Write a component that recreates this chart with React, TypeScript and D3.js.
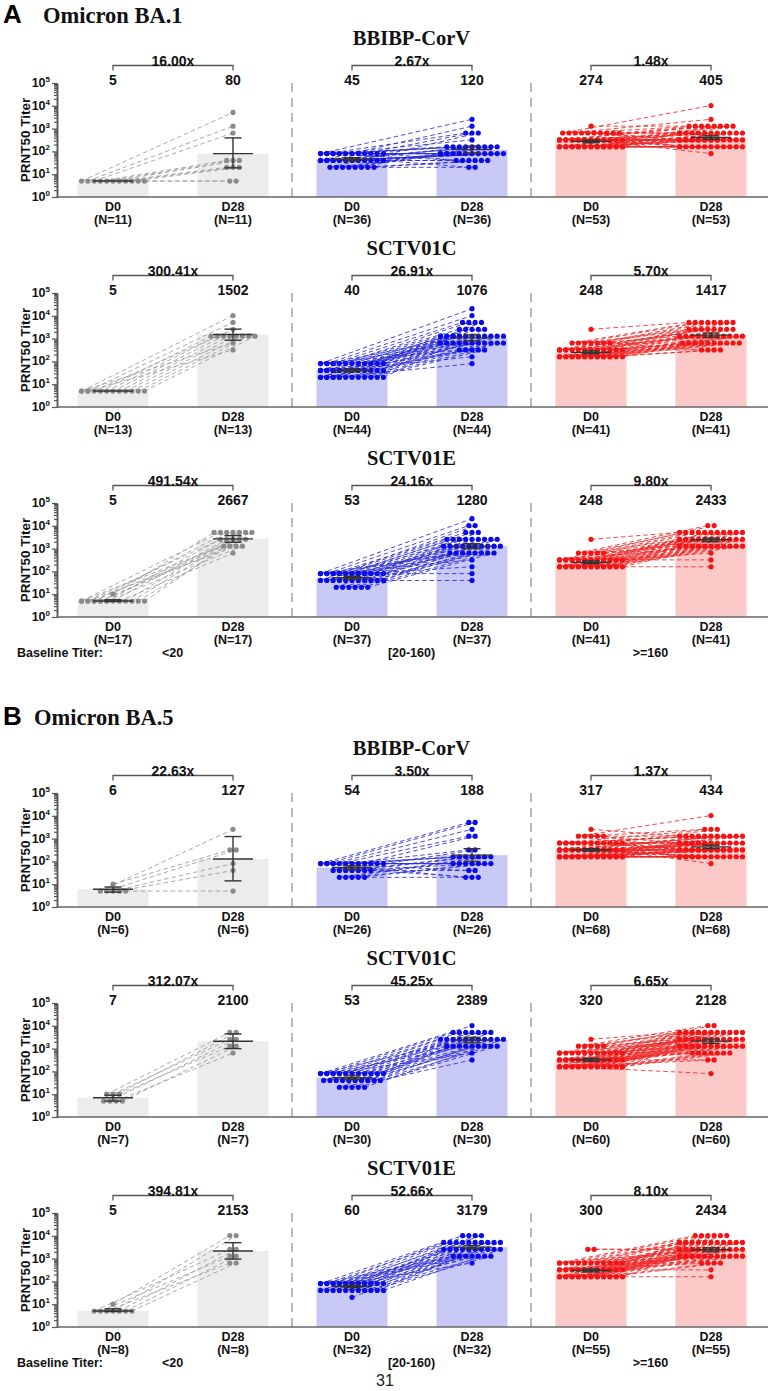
import React, { useEffect, useRef } from 'react';
import * as d3 from 'd3';

// ---------- labels ----------
const variants = ['Omicron BA.1', 'Omicron BA.5'];
const sectionLetters = ['A', 'B'];
const vaccines = ['BBIBP-CorV', 'SCTV01C', 'SCTV01E'];
const baselineGroups = ['<20', '[20-160)', '>=160'];
const days = ['D0', 'D28'];
const yTickValues = [1, 10, 100, 1000, 10000, 100000];
const yTickExps = ['0', '1', '2', '3', '4', '5'];

// ---------- summary values (GMT, fold, N, 95% CI) ----------
const ba1Gmt = [[[5, 80], [45, 120], [274, 405]], [[5, 1502], [40, 1076], [248, 1417]], [[5, 2667], [53, 1280], [248, 2433]]];
const ba5Gmt = [[[6, 127], [54, 188], [317, 434]], [[7, 2100], [53, 2389], [320, 2128]], [[5, 2153], [60, 3179], [300, 2434]]];
const ba1Fold = [['16.00x', '2.67x', '1.48x'], ['300.41x', '26.91x', '5.70x'], ['491.54x', '24.16x', '9.80x']];
const ba5Fold = [['22.63x', '3.50x', '1.37x'], ['312.07x', '45.25x', '6.65x'], ['394.81x', '52.66x', '8.10x']];
const ba1N = [[11, 36, 53], [13, 44, 41], [17, 37, 41]];
const ba5N = [[6, 26, 68], [7, 30, 60], [8, 32, 55]];
const ba1Ci = [
  [[[5, 5], [19, 390]], [[38, 53], [85, 170]], [[240, 310], [340, 480]]],
  [[[5, 5], [850, 2600]], [[35, 46], [800, 1450]], [[215, 290], [1150, 1750]]],
  [[[4.8, 5.7], [1900, 3700]], [[46, 61], [1000, 1650]], [[220, 290], [2000, 2900]]],
];
const ba5Ci = [
  [[[4.5, 7.5], [14, 1230]], [[44, 64], [100, 360]], [[280, 360], [370, 510]]],
  [[[5, 9], [1000, 4400]], [[43, 64], [1800, 3100]], [[280, 370], [1700, 2650]]],
  [[[4.8, 6.3], [950, 5000]], [[53, 68], [2700, 3750]], [[260, 345], [2000, 2950]]],
];

// ---------- individual PRNT50 titers (paired by index) ----------
// BA.1
const b1_bbibp_lo_d0 = [5, 5, 5, 5, 5, 5, 5, 5, 5, 5, 5];
const b1_bbibp_lo_d28 = [5120, 1280, 640, 40, 40, 40, 20, 20, 20, 5, 5];
const b1_bbibp_mid_d0 = [80, 80, 80, 80, 80, 80, 80, 80, 80, 80, 80, 80, 80, 80, 40, 40, 40, 40, 40, 40, 40, 40, 40, 40, 40, 40, 40, 40, 20, 20, 20, 20, 20, 20, 20, 20];
const b1_bbibp_mid_d28 = [2560, 640, 320, 160, 160, 160, 80, 80, 80, 80, 40, 40, 160, 80, 1280, 640, 160, 160, 80, 80, 80, 80, 40, 40, 20, 160, 80, 80, 640, 160, 160, 80, 80, 40, 40, 20];
const b1_bbibp_hi_d0 = [1280, 640, 640, 640, 640, 640, 640, 640, 640, 640, 640, 320, 320, 320, 320, 320, 320, 320, 320, 320, 320, 320, 320, 320, 320, 320, 320, 320, 320, 320, 320, 160, 160, 160, 160, 160, 160, 160, 160, 160, 160, 160, 160, 160, 160, 160, 160, 160, 160, 160, 160, 160, 160];
const b1_bbibp_hi_d28 = [1280, 10240, 2560, 1280, 640, 640, 320, 320, 160, 640, 1280, 1280, 640, 640, 320, 320, 320, 320, 160, 160, 640, 320, 1280, 320, 160, 640, 320, 80, 320, 640, 320, 1280, 1280, 640, 640, 320, 320, 320, 320, 160, 160, 160, 160, 160, 320, 640, 320, 1280, 160, 320, 160, 640, 160];
const b1_sctv01c_lo_d0 = [5, 5, 5, 5, 5, 5, 5, 5, 5, 5, 5, 5, 5];
const b1_sctv01c_lo_d28 = [10240, 5120, 2560, 1280, 1280, 1280, 1280, 1280, 1280, 1280, 1280, 640, 320];
const b1_sctv01c_mid_d0 = [80, 80, 80, 80, 80, 80, 80, 80, 80, 80, 80, 80, 80, 80, 40, 40, 40, 40, 40, 40, 40, 40, 40, 40, 40, 40, 40, 40, 40, 20, 20, 20, 20, 20, 20, 20, 20, 20, 20, 20, 20, 20, 20, 20];
const b1_sctv01c_mid_d28 = [20480, 10240, 5120, 2560, 1280, 1280, 1280, 640, 640, 1280, 2560, 320, 1280, 640, 5120, 2560, 1280, 1280, 1280, 640, 640, 640, 320, 1280, 5120, 1280, 640, 320, 160, 2560, 1280, 1280, 1280, 640, 640, 640, 320, 320, 1280, 2560, 1280, 640, 80, 5120];
const b1_sctv01c_hi_d0 = [2560, 640, 640, 640, 640, 640, 640, 640, 320, 320, 320, 320, 320, 320, 320, 320, 320, 320, 320, 320, 320, 160, 160, 160, 160, 160, 160, 160, 160, 160, 160, 160, 160, 160, 160, 160, 160, 160, 160, 160, 160];
const b1_sctv01c_hi_d28 = [5120, 5120, 5120, 2560, 2560, 1280, 640, 320, 5120, 5120, 2560, 2560, 1280, 1280, 1280, 640, 640, 640, 320, 2560, 1280, 5120, 5120, 5120, 2560, 2560, 2560, 1280, 1280, 1280, 1280, 1280, 1280, 640, 640, 640, 640, 640, 640, 320, 320];
const b1_sctv01e_lo_d0 = [10, 5, 5, 5, 5, 5, 5, 5, 5, 5, 5, 5, 5, 5, 5, 5, 5];
const b1_sctv01e_lo_d28 = [5120, 5120, 2560, 5120, 1280, 5120, 2560, 640, 5120, 2560, 1280, 5120, 2560, 1280, 5120, 2560, 1280];
const b1_sctv01e_mid_d0 = [80, 80, 80, 80, 80, 80, 80, 80, 80, 80, 80, 80, 80, 80, 80, 80, 80, 80, 80, 80, 40, 40, 40, 40, 40, 40, 40, 40, 40, 40, 40, 20, 20, 20, 20, 20, 20];
const b1_sctv01e_mid_d28 = [20480, 10240, 5120, 2560, 2560, 2560, 1280, 1280, 1280, 1280, 640, 640, 640, 320, 80, 2560, 1280, 640, 160, 2560, 10240, 5120, 2560, 2560, 1280, 1280, 1280, 640, 640, 40, 2560, 5120, 2560, 1280, 1280, 640, 640];
const b1_sctv01e_hi_d0 = [2560, 640, 640, 640, 640, 640, 320, 320, 320, 320, 320, 320, 320, 320, 320, 320, 320, 320, 320, 320, 160, 160, 160, 160, 160, 160, 160, 160, 160, 160, 160, 160, 160, 160, 160, 160, 160, 160, 160, 160, 160];
const b1_sctv01e_hi_d28 = [5120, 10240, 5120, 2560, 1280, 2560, 10240, 5120, 5120, 2560, 2560, 2560, 1280, 1280, 1280, 640, 5120, 2560, 1280, 320, 5120, 5120, 5120, 5120, 5120, 5120, 2560, 2560, 2560, 2560, 2560, 2560, 2560, 1280, 1280, 1280, 1280, 1280, 1280, 1280, 160];
// BA.5
const b5_bbibp_lo_d0 = [10, 5, 5, 5, 5, 5];
const b5_bbibp_lo_d28 = [320, 2560, 320, 80, 40, 5];
const b5_bbibp_mid_d0 = [80, 80, 80, 80, 80, 80, 80, 80, 80, 80, 80, 80, 80, 80, 40, 40, 40, 40, 40, 40, 40, 20, 20, 20, 20, 20];
const b5_bbibp_mid_d28 = [5120, 5120, 2560, 1280, 320, 160, 160, 80, 80, 80, 80, 40, 20, 160, 1280, 320, 160, 160, 80, 40, 20, 160, 160, 80, 80, 20];
const b5_bbibp_hi_d0 = [2560, 1280, 1280, 1280, 1280, 1280, 640, 640, 640, 640, 640, 640, 640, 640, 640, 640, 640, 640, 640, 320, 320, 320, 320, 320, 320, 320, 320, 320, 320, 320, 320, 320, 320, 320, 320, 320, 320, 320, 320, 320, 320, 320, 160, 160, 160, 160, 160, 160, 160, 160, 160, 160, 160, 160, 160, 160, 160, 160, 160, 160, 160, 160, 160, 160, 160, 160, 160, 160];
const b5_bbibp_hi_d28 = [1280, 10240, 2560, 1280, 640, 320, 2560, 1280, 1280, 640, 640, 640, 320, 320, 320, 160, 640, 1280, 160, 2560, 1280, 1280, 1280, 640, 640, 640, 640, 640, 320, 320, 320, 320, 320, 320, 160, 160, 160, 160, 80, 640, 320, 1280, 1280, 1280, 640, 640, 640, 640, 640, 640, 320, 320, 320, 320, 320, 320, 320, 320, 320, 160, 160, 160, 160, 160, 160, 160, 160, 160];
const b5_sctv01c_lo_d0 = [10, 10, 10, 5, 5, 5, 5];
const b5_sctv01c_lo_d28 = [5120, 2560, 1280, 5120, 2560, 640, 1280];
const b5_sctv01c_mid_d0 = [80, 80, 80, 80, 80, 80, 80, 80, 80, 80, 80, 80, 80, 80, 80, 40, 40, 40, 40, 40, 40, 40, 40, 40, 40, 20, 20, 20, 20, 20];
const b5_sctv01c_mid_d28 = [10240, 5120, 5120, 2560, 2560, 2560, 2560, 1280, 1280, 1280, 5120, 2560, 1280, 640, 2560, 5120, 5120, 2560, 2560, 1280, 1280, 1280, 5120, 2560, 320, 5120, 2560, 1280, 1280, 2560];
const b5_sctv01c_hi_d0 = [2560, 1280, 1280, 1280, 1280, 1280, 640, 640, 640, 640, 640, 640, 640, 640, 640, 640, 640, 640, 320, 320, 320, 320, 320, 320, 320, 320, 320, 320, 320, 320, 320, 320, 320, 320, 320, 320, 160, 160, 160, 160, 160, 160, 160, 160, 160, 160, 160, 160, 160, 160, 160, 160, 160, 160, 160, 160, 160, 160, 160, 160];
const b5_sctv01c_hi_d28 = [5120, 10240, 5120, 5120, 2560, 1280, 10240, 5120, 5120, 5120, 2560, 2560, 2560, 1280, 1280, 640, 5120, 2560, 5120, 5120, 5120, 5120, 2560, 2560, 2560, 2560, 1280, 1280, 1280, 1280, 640, 640, 320, 5120, 2560, 1280, 5120, 5120, 5120, 5120, 5120, 2560, 2560, 2560, 2560, 2560, 2560, 1280, 1280, 1280, 1280, 1280, 1280, 1280, 640, 640, 640, 640, 320, 80];
const b5_sctv01e_lo_d0 = [10, 5, 5, 5, 5, 5, 5, 5];
const b5_sctv01e_lo_d28 = [10240, 2560, 1280, 640, 10240, 2560, 1280, 640];
const b5_sctv01e_mid_d0 = [80, 80, 80, 80, 80, 80, 80, 80, 80, 80, 80, 80, 80, 80, 80, 80, 80, 80, 80, 80, 40, 40, 40, 40, 40, 40, 40, 40, 40, 40, 40, 20];
const b5_sctv01e_mid_d28 = [10240, 10240, 5120, 5120, 5120, 5120, 2560, 2560, 2560, 2560, 2560, 1280, 1280, 1280, 1280, 640, 5120, 2560, 1280, 10240, 10240, 5120, 5120, 5120, 2560, 2560, 2560, 1280, 1280, 5120, 2560, 5120];
const b5_sctv01e_hi_d0 = [2560, 2560, 640, 640, 640, 640, 640, 640, 640, 640, 640, 640, 640, 640, 320, 320, 320, 320, 320, 320, 320, 320, 320, 320, 320, 320, 320, 320, 320, 320, 320, 320, 320, 320, 160, 160, 160, 160, 160, 160, 160, 160, 160, 160, 160, 160, 160, 160, 160, 160, 160, 160, 160, 160, 160];
const b5_sctv01e_hi_d28 = [2560, 2560, 10240, 10240, 5120, 5120, 2560, 2560, 2560, 1280, 1280, 640, 5120, 2560, 10240, 10240, 5120, 5120, 5120, 5120, 2560, 2560, 2560, 2560, 1280, 1280, 1280, 1280, 1280, 640, 320, 5120, 2560, 1280, 10240, 10240, 5120, 5120, 5120, 5120, 5120, 2560, 2560, 2560, 2560, 2560, 1280, 1280, 1280, 1280, 1280, 1280, 640, 640, 160];

const ba1D0 = [[b1_bbibp_lo_d0, b1_bbibp_mid_d0, b1_bbibp_hi_d0], [b1_sctv01c_lo_d0, b1_sctv01c_mid_d0, b1_sctv01c_hi_d0], [b1_sctv01e_lo_d0, b1_sctv01e_mid_d0, b1_sctv01e_hi_d0]];
const ba1D28 = [[b1_bbibp_lo_d28, b1_bbibp_mid_d28, b1_bbibp_hi_d28], [b1_sctv01c_lo_d28, b1_sctv01c_mid_d28, b1_sctv01c_hi_d28], [b1_sctv01e_lo_d28, b1_sctv01e_mid_d28, b1_sctv01e_hi_d28]];
const ba5D0 = [[b5_bbibp_lo_d0, b5_bbibp_mid_d0, b5_bbibp_hi_d0], [b5_sctv01c_lo_d0, b5_sctv01c_mid_d0, b5_sctv01c_hi_d0], [b5_sctv01e_lo_d0, b5_sctv01e_mid_d0, b5_sctv01e_hi_d0]];
const ba5D28 = [[b5_bbibp_lo_d28, b5_bbibp_mid_d28, b5_bbibp_hi_d28], [b5_sctv01c_lo_d28, b5_sctv01c_mid_d28, b5_sctv01c_hi_d28], [b5_sctv01e_lo_d28, b5_sctv01e_mid_d28, b5_sctv01e_hi_d28]];

const variantData = [
  { gmt: ba1Gmt, fold: ba1Fold, n: ba1N, ci: ba1Ci, d0: ba1D0, d28: ba1D28 },
  { gmt: ba5Gmt, fold: ba5Fold, n: ba5N, ci: ba5Ci, d0: ba5D0, d28: ba5D28 },
];

// ---------- style ----------
const W = 770;
const H = 1391;
const SANS = '"Liberation Sans", Arial, sans-serif';
const SERIF = '"Liberation Serif", "Times New Roman", serif';
const barFill = ['#ececec', '#c9c9f7', '#fcc9c9'];
const dotFill = ['#8a8a8a', '#0b0be8', '#f21414'];
const lineStroke = ['#9a9a9a', '#2b2bd6', '#ec2a2a'];
const rowTops = [83, 293, 503, 793, 1003, 1213];
const headerY = [23, 725];
const headerTextX = [43, 34];
const plotH = 114;
const panelLefts = [53, 292, 531];
const axisX = 57;
const barW = 71;
const DOT_SP = 6.3;
const MAX_SLOTS = 11;

// dots with the same titer are laid out in a horizontal row of at most MAX_SLOTS positions
function spreadX(vals: number[], cx: number): number[] {
  const xs: number[] = new Array(vals.length);
  const grouped = d3.group(vals.map((v, i) => ({ v, i })), (d) => d.v);
  grouped.forEach((arr) => {
    const n = arr.length;
    const slots = Math.min(n, MAX_SLOTS);
    arr.forEach((d, k) => {
      const s = k % slots;
      xs[d.i] = cx + (s - (slots - 1) / 2) * DOT_SP;
    });
  });
  return xs;
}

export default function App() {
  const ref = useRef<SVGSVGElement>(null);

  useEffect(() => {
    const svg = d3.select(ref.current);
    svg.selectAll('*').remove();
    svg.append('rect').attr('width', W).attr('height', H).attr('fill', '#fff');

    variantData.forEach((vd, v) => {
      // section header
      svg.append('text').attr('x', 3).attr('y', headerY[v]).attr('font-family', SANS).attr('font-weight', 'bold')
        .attr('font-size', 26).attr('fill', '#000').text(sectionLetters[v]);
      svg.append('text').attr('x', headerTextX[v]).attr('y', headerY[v]).attr('font-family', SERIF).attr('font-weight', 'bold')
        .attr('font-size', 22.5).attr('fill', '#111').text(variants[v]);

      vaccines.forEach((vac, r) => {
        const top = rowTops[v * 3 + r];
        const bottom = top + plotH;
        const y = d3.scaleLog().domain([1, 1e5]).range([bottom, top]);
        const g = svg.append('g');

        // vaccine title
        g.append('text').attr('x', 411.5).attr('y', top - 38).attr('text-anchor', 'middle')
          .attr('font-family', SERIF).attr('font-weight', 'bold').attr('font-size', 20.5).attr('fill', '#111').text(vac);

        // panels
        baselineGroups.forEach((bg, p) => {
          const left = panelLefts[p];
          const x = d3.scalePoint<string>().domain(days).range([left + 60, left + 180]);
          const gm = vd.gmt[r][p];
          const ci = vd.ci[r][p];
          const d0 = vd.d0[r][p];
          const d28 = vd.d28[r][p];
          const pg = g.append('g');

          // bars
          days.forEach((dname, di) => {
            pg.append('rect').attr('x', (x(dname) as number) - barW / 2).attr('y', y(gm[di]))
              .attr('width', barW).attr('height', bottom - y(gm[di])).attr('fill', barFill[p]);
          });

          // points and paired dashed lines
          const x0 = spreadX(d0, x('D0') as number);
          const x1 = spreadX(d28, x('D28') as number);
          const lineGen = d3.line<[number, number]>();
          d0.forEach((val, i) => {
            pg.append('path').attr('d', lineGen([[x0[i], y(val)], [x1[i], y(d28[i])]]))
              .attr('stroke', lineStroke[p]).attr('stroke-width', 1).attr('stroke-dasharray', '4.5,3')
              .attr('fill', 'none').attr('opacity', 0.85);
          });
          d0.forEach((val, i) => {
            pg.append('circle').attr('cx', x0[i]).attr('cy', y(val)).attr('r', 2.6).attr('fill', dotFill[p]);
          });
          d28.forEach((val, i) => {
            pg.append('circle').attr('cx', x1[i]).attr('cy', y(val)).attr('r', 2.6).attr('fill', dotFill[p]);
          });

          // error bars (GMT with 95% CI)
          days.forEach((dname, di) => {
            const cx = x(dname) as number;
            const eb = pg.append('g').attr('stroke', '#333').attr('stroke-width', 1.4).attr('fill', 'none');
            eb.append('line').attr('x1', cx - 20).attr('x2', cx + 20).attr('y1', y(gm[di])).attr('y2', y(gm[di]));
            if (ci[di][1] / ci[di][0] > 1.05) {
              eb.append('line').attr('x1', cx).attr('x2', cx).attr('y1', y(ci[di][0])).attr('y2', y(ci[di][1]));
              eb.append('line').attr('x1', cx - 8.5).attr('x2', cx + 8.5).attr('y1', y(ci[di][0])).attr('y2', y(ci[di][0]));
              eb.append('line').attr('x1', cx - 8.5).attr('x2', cx + 8.5).attr('y1', y(ci[di][1])).attr('y2', y(ci[di][1]));
            }
          });

          // fold bracket
          const bx0 = x('D0') as number;
          const bx1 = x('D28') as number;
          const by = top - 17.5;
          pg.append('path').attr('d', `M${bx0},${by + 5}V${by}H${bx1}V${by + 5}`)
            .attr('stroke', '#555').attr('stroke-width', 1.3).attr('fill', 'none');
          pg.append('text').attr('x', (bx0 + bx1) / 2).attr('y', top - 17).attr('text-anchor', 'middle')
            .attr('font-family', SANS).attr('font-weight', 'bold').attr('font-size', 14).attr('fill', '#111')
            .text(vd.fold[r][p]);

          // GMT numbers & day labels
          days.forEach((dname, di) => {
            const cx = x(dname) as number;
            pg.append('text').attr('x', cx).attr('y', top + 2).attr('text-anchor', 'middle')
              .attr('font-family', SANS).attr('font-weight', 'bold').attr('font-size', 14).attr('fill', '#111')
              .text(String(gm[di]));
            pg.append('text').attr('x', cx).attr('y', bottom + 14).attr('text-anchor', 'middle')
              .attr('font-family', SANS).attr('font-weight', 'bold').attr('font-size', 12.5).attr('fill', '#111')
              .text(dname);
            pg.append('text').attr('x', cx).attr('y', bottom + 26.5).attr('text-anchor', 'middle')
              .attr('font-family', SANS).attr('font-weight', 'bold').attr('font-size', 12.5).attr('fill', '#111')
              .text(`(N=${vd.n[r][p]})`);
          });

          // baseline group label
          if (r === 2) {
            g.append('text').attr('x', left + 119.5).attr('y', bottom + 39.5).attr('text-anchor', 'middle')
              .attr('font-family', SANS).attr('font-weight', 'bold').attr('font-size', 12.5).attr('fill', '#111')
              .text(bg);
          }
        });

        // separators
        [panelLefts[1], panelLefts[2]].forEach((sx) => {
          g.append('line').attr('x1', sx).attr('x2', sx).attr('y1', top).attr('y2', bottom)
            .attr('stroke', '#8c8c8c').attr('stroke-width', 1.2).attr('stroke-dasharray', '9,6');
        });

        // x axis baseline
        g.append('line').attr('x1', axisX).attr('x2', 768).attr('y1', bottom).attr('y2', bottom)
          .attr('stroke', '#666').attr('stroke-width', 1.5);

        // y axis
        const minor: number[] = [];
        for (let e = 0; e < 5; e++) for (let m = 2; m <= 9; m++) minor.push(m * Math.pow(10, e));
        const ax = g.append('g').attr('transform', `translate(${axisX},0)`);
        ax.call(d3.axisLeft(y).tickValues(minor).tickSize(3).tickSizeOuter(0).tickFormat(() => ''));
        const axMaj = g.append('g').attr('transform', `translate(${axisX},0)`);
        axMaj.call(d3.axisLeft(y).tickValues(yTickValues).tickSize(5).tickSizeOuter(0).tickFormat(() => ''));
        [ax, axMaj].forEach((a) => {
          a.select('.domain').attr('stroke', '#555').attr('stroke-width', 1.5);
          a.selectAll('.tick line').attr('stroke', '#555').attr('stroke-width', 1.2);
        });
        yTickValues.forEach((tv, k) => {
          const t = g.append('text').attr('x', 50).attr('y', y(tv) + 4).attr('text-anchor', 'end')
            .attr('font-family', SANS).attr('font-weight', 'bold').attr('font-size', 12.5).attr('fill', '#111');
          t.append('tspan').text('10');
          t.append('tspan').attr('dy', -5).attr('font-size', 8).text(yTickExps[k]);
        });
        g.append('text').attr('transform', `translate(30,${(top + bottom) / 2}) rotate(-90)`)
          .attr('text-anchor', 'middle').attr('font-family', SANS).attr('font-weight', 'bold')
          .attr('font-size', 13.5).attr('fill', '#111').text('PRNT50 Titer');

        if (r === 2) {
          g.append('text').attr('x', 17).attr('y', bottom + 39.5).attr('font-family', SANS).attr('font-weight', 'bold')
            .attr('font-size', 12.5).attr('fill', '#111').text('Baseline Titer:');
        }
      });
    });

    svg.append('text').attr('x', 385).attr('y', 1386).attr('text-anchor', 'middle').attr('font-family', SANS)
      .attr('font-size', 16).attr('fill', '#222').text('31');
  }, []);

  return (
    <svg ref={ref} width={W} height={H} style={{ position: 'absolute', left: 0, top: 0, display: 'block' }} />
  );
}
